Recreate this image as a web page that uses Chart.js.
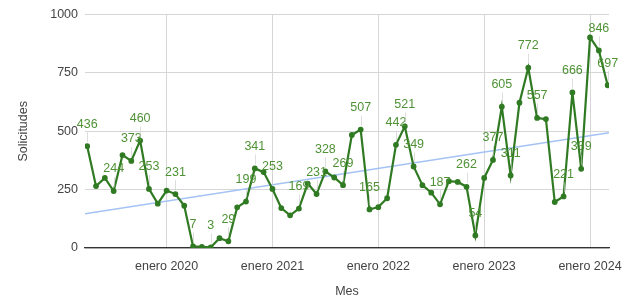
<!DOCTYPE html>
<html>
<head>
<meta charset="utf-8">
<script src="https://cdn.jsdelivr.net/npm/chart.js@4.4.1/dist/chart.umd.min.js"></script>
<style>
  html, body { margin: 0; padding: 0; background: #fff; }
  #wrap { width: 635px; height: 306px; position: relative; }
</style>
</head>
<body>
<div id="wrap"><canvas id="chart"></canvas></div>
<script>
// Meses (abril 2019 - marzo 2024)
const meses = [
  'abr 2019', 'may 2019', 'jun 2019', 'jul 2019', 'ago 2019', 'sept 2019', 'oct 2019', 'nov 2019', 'dic 2019',
  'ene 2020', 'feb 2020', 'mar 2020', 'abr 2020', 'may 2020', 'jun 2020', 'jul 2020', 'ago 2020', 'sept 2020', 'oct 2020', 'nov 2020', 'dic 2020',
  'ene 2021', 'feb 2021', 'mar 2021', 'abr 2021', 'may 2021', 'jun 2021', 'jul 2021', 'ago 2021', 'sept 2021', 'oct 2021', 'nov 2021', 'dic 2021',
  'ene 2022', 'feb 2022', 'mar 2022', 'abr 2022', 'may 2022', 'jun 2022', 'jul 2022', 'ago 2022', 'sept 2022', 'oct 2022', 'nov 2022', 'dic 2022',
  'ene 2023', 'feb 2023', 'mar 2023', 'abr 2023', 'may 2023', 'jun 2023', 'jul 2023', 'ago 2023', 'sept 2023', 'oct 2023', 'nov 2023', 'dic 2023',
  'ene 2024', 'feb 2024', 'mar 2024'
];

// Solicitudes por mes
const solicitudes = [
  436, 265, 300, 244, 398, 373, 460, 253, 190,
  246, 231, 181, 7, 5, 3, 42, 29, 174, 199, 341, 325,
  253, 171, 140, 169, 276, 231, 328, 302, 269, 484, 507, 165,
  175, 213, 442, 521, 349, 269, 237, 187, 286, 283, 262, 54,
  300, 377, 605, 311, 622, 772, 557, 552, 197, 221, 666, 339,
  902, 846, 697
];

// Puntos que llevan etiqueta de valor
const conEtiqueta = [0, 3, 5, 6, 7, 10, 12, 14, 16, 18, 19, 21, 24, 26, 27, 29, 31, 32,
  35, 36, 37, 40, 43, 44, 46, 47, 48, 50, 51, 54, 55, 56, 58, 59];

// Marcas del eje X
const mesesMarca = ['ene 2020', 'ene 2021', 'ene 2022', 'ene 2023', 'ene 2024'];
const textosMarca = ['enero 2020', 'enero 2021', 'enero 2022', 'enero 2023', 'enero 2024'];

const ticksY = [0, 250, 500, 750, 1000];

const X_MIN = -0.25, X_MAX = 59.15;
const FUENTE = "'Liberation Sans', Arial, sans-serif";

// Línea de tendencia (mínimos cuadrados)
const n = solicitudes.length;
let sx = 0, sy = 0, sxx = 0, sxy = 0;
solicitudes.forEach((v, i) => { sx += i; sy += v; sxx += i * i; sxy += i * v; });
const pendiente = (n * sxy - sx * sy) / (n * sxx - sx * sx);
const corte = (sy - pendiente * sx) / n;
const tendencia = [X_MIN, X_MAX].map(x => ({ x: x, y: corte + pendiente * x }));

const posMarcas = mesesMarca.map(m => meses.indexOf(m));

const etiquetasPlugin = {
  id: 'etiquetas',
  afterDatasetsDraw(chart) {
    const ctx = chart.ctx;
    const meta = chart.getDatasetMeta(1);
    ctx.save();
    ctx.font = '12.5px ' + FUENTE;
    ctx.textAlign = 'center';
    ctx.textBaseline = 'middle';
    conEtiqueta.forEach(i => {
      const p = meta.data[i];
      ctx.strokeStyle = 'rgba(200,200,200,0.6)';
      ctx.lineWidth = 1;
      ctx.beginPath();
      ctx.moveTo(Math.round(p.x) + 0.5, p.y - 14);
      ctx.lineTo(Math.round(p.x) + 0.5, p.y - 4);
      ctx.stroke();
      ctx.fillStyle = '#4f9236';
      ctx.fillText(String(solicitudes[i]), p.x, p.y - 22);
    });
    ctx.restore();
  }
};

new Chart(document.getElementById('chart'), {
  type: 'line',
  data: {
    datasets: [
      {
        data: tendencia,
        borderColor: '#a4c2f4',
        borderWidth: 1.4,
        pointRadius: 0,
        order: 2
      },
      {
        data: solicitudes.map((v, i) => ({ x: i, y: v })),
        borderColor: '#2f7a22',
        backgroundColor: '#2f7a22',
        borderWidth: 2.2,
        pointRadius: 1.8,
        pointHoverRadius: 1.8,
        tension: 0,
        order: 1
      }
    ]
  },
  options: {
    responsive: true,
    maintainAspectRatio: false,
    animation: false,
    layout: { padding: { top: 10, right: 26, left: 0, bottom: 0 } },
    plugins: { legend: { display: false }, tooltip: { enabled: false } },
    scales: {
      x: {
        type: 'linear',
        min: X_MIN,
        max: X_MAX,
        afterBuildTicks: scale => { scale.ticks = posMarcas.map(v => ({ value: v })); },
        afterFit: scale => { scale.height = 58; },
        ticks: {
          callback: v => textosMarca[posMarcas.indexOf(v)],
          color: '#444',
          font: { family: FUENTE, size: 12.5 },
          padding: 11,
          maxRotation: 0,
          autoSkip: false
        },
        grid: { color: '#d6d6d6', drawTicks: false },
        border: { display: true, color: '#333', width: 1.2 },
        title: {
          display: true,
          text: 'Mes',
          color: '#444',
          font: { family: FUENTE, size: 12.5 },
          padding: { top: 0, bottom: 6.5 }
        }
      },
      y: {
        min: 0,
        max: 1000,
        afterBuildTicks: scale => { scale.ticks = ticksY.map(v => ({ value: v })); },
        afterFit: scale => { scale.width = 85; },
        ticks: {
          callback: v => String(v),
          color: '#444',
          font: { family: FUENTE, size: 12.5 },
          padding: 7
        },
        grid: { color: '#d6d6d6', drawTicks: false },
        border: { display: false },
        title: {
          display: true,
          text: 'Solicitudes',
          color: '#444',
          font: { family: FUENTE, size: 12.5 },
          padding: { top: 16, bottom: 0 }
        }
      }
    }
  },
  plugins: [etiquetasPlugin]
});
</script>
</body>
</html>
